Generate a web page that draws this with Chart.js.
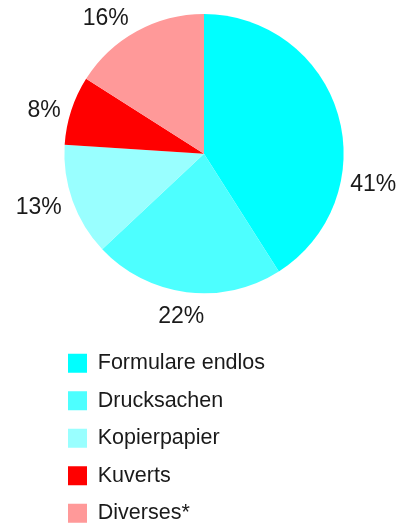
<!DOCTYPE html>
<html>
<head>
<meta charset="utf-8">
<script src="https://cdn.jsdelivr.net/npm/chart.js@4/dist/chart.umd.min.js"></script>
<style>
	html, body { margin: 0; padding: 0; background: #fff; overflow: hidden; }
	canvas { display: block; }
</style>
</head>
<body>
<canvas id="pieChart" width="410" height="534"></canvas>
<script>
const categories = ["Formulare endlos", "Drucksachen", "Kopierpapier", "Kuverts", "Diverses*"];
const shares = [41, 22, 13, 8, 16];
const sliceColors = ["#00FFFF", "#4DFFFF", "#99FFFF", "#FF0000", "#FF9999"];

// where each percentage label sits: degrees clockwise from 12 o'clock, and distance as a multiple of the radius
const labelAngle = [100.5, 188, 252, 285, 324];
const labelDist = [1.233, 1.176, 1.244, 1.186, 1.197];

const FONT = "'Liberation Sans', Arial, sans-serif";

// draws the percent labels outside the pie
const outsideLabels = {
	id: "outsideLabels",
	afterDatasetsDraw(chart) {
		const ctx = chart.ctx;
		const meta = chart.getDatasetMeta(0);
		ctx.save();
		ctx.font = "23px " + FONT;
		ctx.fillStyle = "#1a1a1a";
		ctx.textAlign = "center";
		ctx.textBaseline = "middle";
		meta.data.forEach((arc, i) => {
			const a = (labelAngle[i] - 90) * Math.PI / 180;
			const r = arc.outerRadius * labelDist[i];
			ctx.fillText(shares[i] + "%", arc.x + r * Math.cos(a), arc.y + r * Math.sin(a));
		});
		ctx.restore();
	},
};

const ctx = document.getElementById("pieChart").getContext("2d");
const pieChart = new Chart(ctx, {
	type: "pie",
	data: {
		labels: categories,
		datasets: [
			{
				data: shares,
				backgroundColor: sliceColors,
				borderWidth: 0,
			},
		],
	},
	options: {
		responsive: false,
		animation: false,
		devicePixelRatio: 1,
		layout: {
			padding: { top: 14, left: 52, right: 54, bottom: 0 },
		},
		plugins: {
			tooltip: { enabled: false },
			legend: {
				position: "bottom",
				align: "start",
				title: {
					display: true,
					text: " ",
					font: { size: 10, lineHeight: 1 },
					padding: { top: 33.25, bottom: 0 },
				},
				labels: {
					boxWidth: 19,
					boxHeight: 19,
					padding: 16,
					color: "#1a1a1a",
					font: { family: FONT, size: 21.5 },
					// trailing spaces force one entry per row
					generateLabels(chart) {
						const items = Chart.overrides.pie.plugins.legend.labels.generateLabels(chart);
						items.forEach((item) => {
							item.text = item.text + "\u00A0".repeat(30);
							item.lineWidth = 0;
						});
						return items;
					},
				},
			},
		},
	},
	plugins: [outsideLabels],
});
</script>
</body>
</html>
